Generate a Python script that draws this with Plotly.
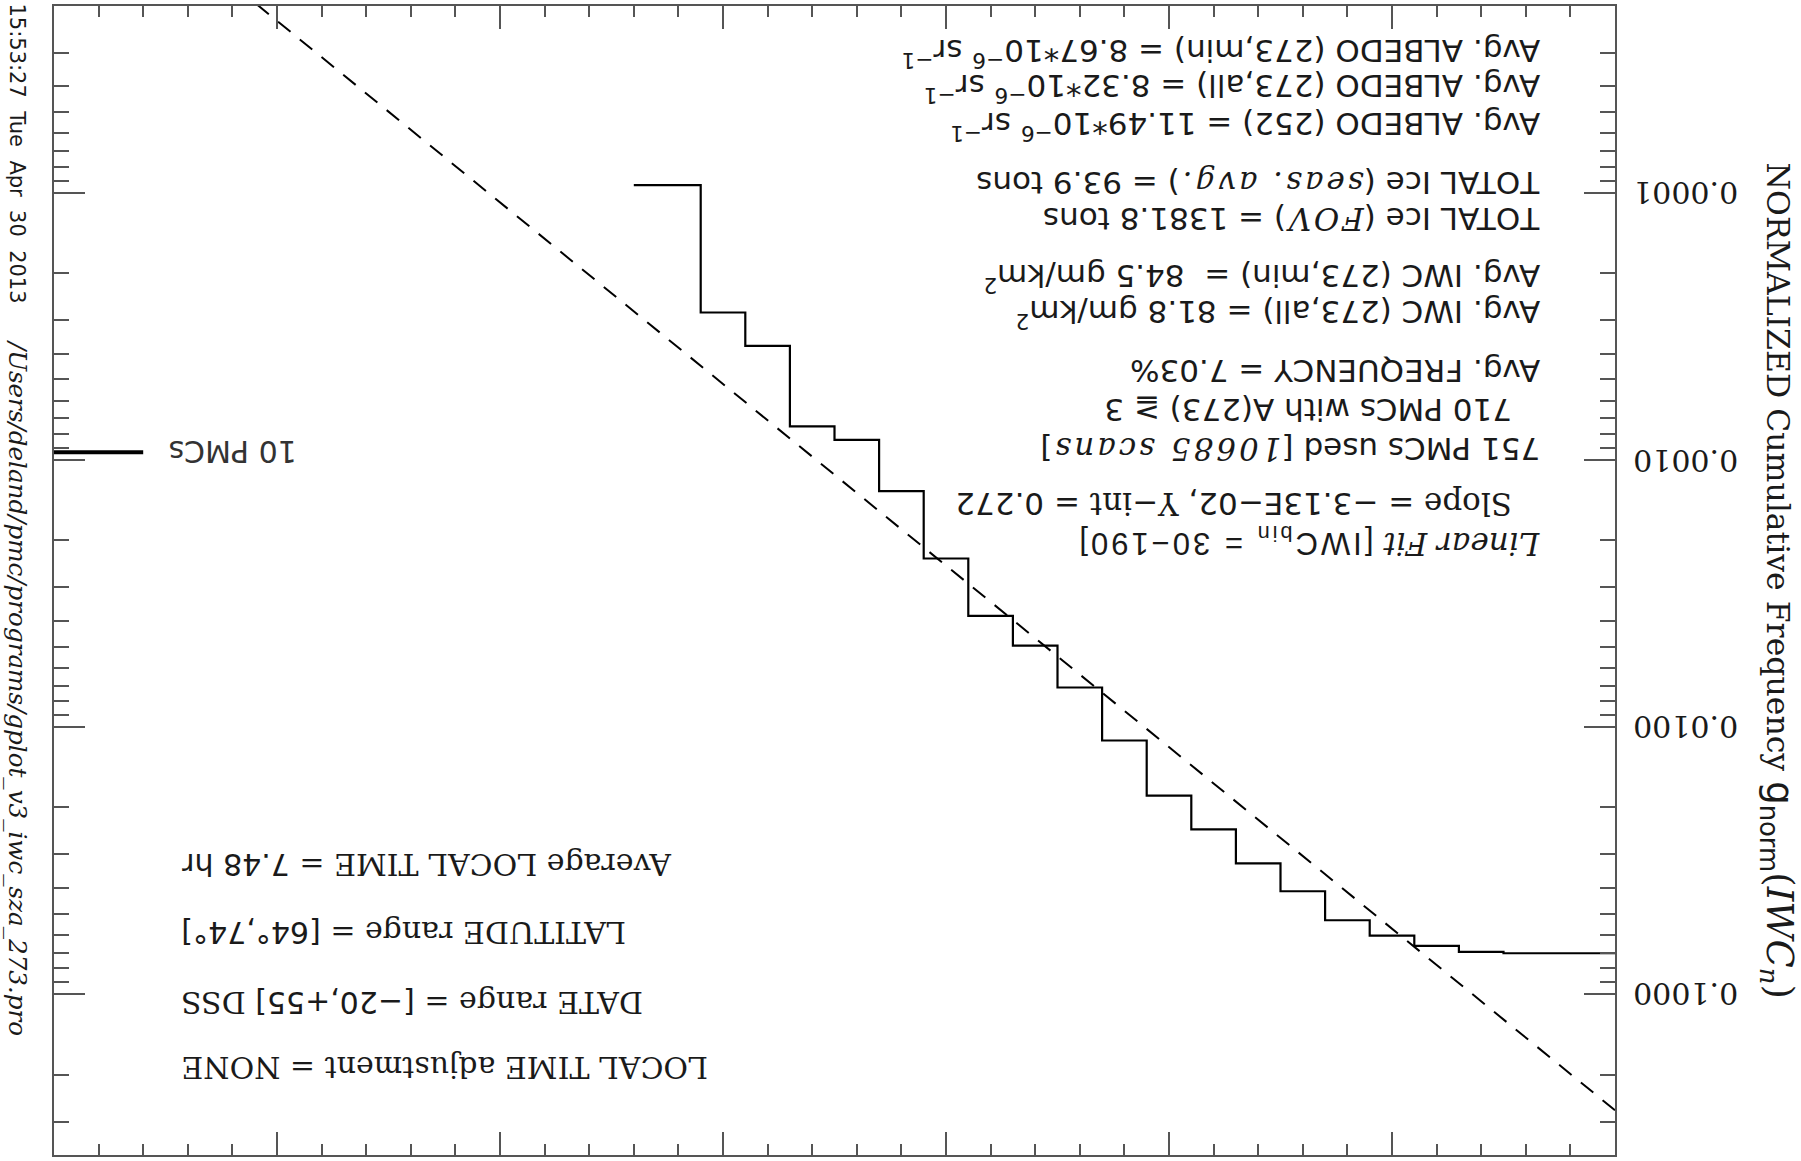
import numpy as np
import plotly.graph_objects as go

# ---- data -------------------------------------------------------------
N_SCANS = 10685
IWC_BINS = [0, 10, 20, 30, 40, 50, 60, 70, 80, 90, 100, 110,
            120, 130, 140, 150, 160, 170, 180, 190, 200, 210, 220]
PMC_COUNTS = [751, 751, 751, 742, 705, 645, 565, 440, 346, 258, 193, 120,
              76, 53, 41, 25, 14, 9, 8, 4, 3, 1, 1]
FIT_SLOPE = -3.13e-2
FIT_YINT = 0.272
FIT_X = [0, 350]
REF_COUNT = 10
REF_X = [330, 350]
Y_TICK_VALUES = [1e-4, 1e-3, 1e-2, 1e-1]
Y_TICK_LABELS = ["0.0001", "0.0010", "0.0100", "0.1000"]
X_RANGE = [350, 0]
Y_RANGE = [0.4, 2e-5]

SANS = "DejaVu Sans"
SERIF = "DejaVu Serif"
INK = "#1a1a1a"
AXIS = "#555555"

g_norm = [c / N_SCANS for c in PMC_COUNTS]
fit_y = [FIT_YINT * np.exp(FIT_SLOPE * x) for x in FIT_X]
ref_y = REF_COUNT / N_SCANS


def span(s, family, italic=False, spacing=0, size=None):
    style = f"font-family:'{family}'"
    if italic:
        style += ";font-style:italic"
    if spacing:
        style += f";letter-spacing:{spacing}px"
    if size:
        style += f";font-size:{size}px"
    return f"<span style=\"{style}\">{s}</span>"


def serif(s, italic=False, spacing=0):
    return span(s, SERIF, italic, spacing)


def sans(s):
    return span(s, SANS)


fig = go.Figure()

# cumulative frequency histogram (steps centred on bins)
fig.add_trace(go.Scatter(
    x=IWC_BINS, y=g_norm, mode="lines",
    line=dict(shape="hvh", color="black", width=2.2),
    hoverinfo="skip"))

# exponential fit
fig.add_trace(go.Scatter(
    x=FIT_X, y=fit_y, mode="lines",
    line=dict(color="black", width=2, dash="16px,12px"),
    hoverinfo="skip"))

# 10-PMC reference level
fig.add_trace(go.Scatter(
    x=REF_X, y=[ref_y, ref_y], mode="lines",
    line=dict(color="black", width=4),
    hoverinfo="skip"))

annotations = []

# y tick labels (upside down, right of the frame)
for v, lab in zip(Y_TICK_VALUES, Y_TICK_LABELS):
    annotations.append(dict(
        x=1.0103, xref="paper", y=np.log10(v), yref="y",
        text=lab, showarrow=False, textangle=180,
        xanchor="left", yanchor="middle",
        font=dict(family=SERIF, size=30, color=INK)))

# axis title
title_tail = (span("g<sub>norm</sub>", SANS, size=37)
              + span("(<i>IWC<sub>n</sub></i>)", SERIF, size=37))
annotations.append(dict(
    x=1.1044, xref="paper", y=0.5000, yref="paper",
    text="NORMALIZED Cumulative Frequency " + title_tail,
    showarrow=False, textangle=90, xanchor="center", yanchor="middle",
    font=dict(family=SERIF, size=31.5, color=INK)))

# time stamp and program path
annotations.append(dict(
    x=-0.0234, xref="paper", y=1.0035, yref="paper",
    text="15:53:27\u00a0\u00a0Tue\u00a0\u00a0Apr\u00a0\u00a030\u00a0\u00a02013",
    showarrow=False, textangle=90, xanchor="center", yanchor="top",
    font=dict(family=SANS, size=21, color=INK)))
annotations.append(dict(
    x=-0.0234, xref="paper", y=0.7107, yref="paper",
    text="<i>/Users/deland/pmc/programs/gplot_v3_iwc_sza_273.pro</i>",
    showarrow=False, textangle=90, xanchor="center", yanchor="top",
    font=dict(family=SERIF, size=24.6, color=INK)))

# reference level label
annotations.append(dict(
    x=310, xref="x", y=np.log10(ref_y), yref="y",
    text="10 PMCs", showarrow=False, textangle=180,
    xanchor="center", yanchor="middle",
    font=dict(family=SANS, size=30, color="#333333")))

# statistics block
fit_line = (serif("Linear Fit", True) + " "
            + span("[IWC<sub>bin</sub> = 30\u2212190]", "Liberation Sans", spacing=3))
stats = [
    ("Avg. ALBEDO (273,min) = 8.67*10<sup>\u22126</sup> sr<sup>\u22121</sup>", 0.9536, 0.9586),
    ("Avg. ALBEDO (273,all) = 8.32*10<sup>\u22126</sup> sr<sup>\u22121</sup>", 0.9536, 0.9287),
    ("Avg. ALBEDO (252) = 11.49*10<sup>\u22126</sup> sr<sup>\u22121</sup>", 0.9536, 0.8957),
    ("TOTAL Ice (" + serif("seas. avg.", True, 3) + ") = 93.9 tons", 0.9536, 0.8458),
    ("TOTAL Ice (" + serif("FOV", True, 3) + ") = 1381.8 tons", 0.9536, 0.8141),
    ("Avg. IWC (273,min) =\u00a0\u00a084.5 gm/km<sup>2</sup>", 0.9536, 0.7639),
    ("Avg. IWC (273,all) = 81.8 gm/km<sup>2</sup>", 0.9536, 0.7321),
    ("Avg. FREQUENCY = 7.03%", 0.9536, 0.6822),
    ("710 PMCs with A(273) \u2267 3", 0.9353, 0.6482),
    ("751 PMCs used [" + serif("10685 scans", True, 3) + "]", 0.9536, 0.6143),
    (serif("Slope") + " = \u22123.13E\u221202, " + serif("Y\u2212int") + " = 0.272", 0.9353, 0.5665),
    (fit_line, 0.9536, 0.5345),
]
for txt, xp, yp in stats:
    annotations.append(dict(
        x=xp, xref="paper", y=yp, yref="paper", text=txt,
        showarrow=False, textangle=180, xanchor="right", yanchor="middle",
        font=dict(family=SANS, size=31, color=INK)))

# selection block
selection = [
    ("Average LOCAL TIME = " + sans("7.48 hr"), 0.2530),
    ("LATITUDE range = " + sans("[64\u00b0,74\u00b0]"), 0.1932),
    ("DATE range = " + sans("[\u221220,+55]") + " DSS", 0.1333),
    ("LOCAL TIME adjustment = NONE", 0.0756),
]
for txt, yp in selection:
    annotations.append(dict(
        x=0.0804, xref="paper", y=yp, yref="paper", text=txt,
        showarrow=False, textangle=180, xanchor="left", yanchor="middle",
        font=dict(family=SERIF, size=30, color=INK)))

fig.update_layout(
    width=1801, height=1161,
    margin=dict(l=54, r=186, t=4, b=6, pad=0),
    paper_bgcolor="white", plot_bgcolor="white",
    showlegend=False,
    font=dict(family=SANS, color=INK),
    annotations=annotations,
    xaxis=dict(
        range=X_RANGE, showticklabels=False, showgrid=False, zeroline=False,
        ticks="inside", tick0=0, dtick=50, ticklen=23, tickwidth=1.5,
        tickcolor=AXIS,
        minor=dict(ticks="inside", dtick=10, ticklen=11.5, tickwidth=1.5,
                   tickcolor=AXIS, showgrid=False),
        showline=True, linecolor=AXIS, linewidth=1.5, mirror="ticks"),
    yaxis=dict(
        type="log", range=[np.log10(Y_RANGE[0]), np.log10(Y_RANGE[1])],
        side="right", showticklabels=False, showgrid=False, zeroline=False,
        ticks="inside", dtick=1, ticklen=31, tickwidth=1.5, tickcolor=AXIS,
        minor=dict(ticks="inside", dtick="D1", ticklen=15.6, tickwidth=1.5,
                   tickcolor=AXIS, showgrid=False),
        showline=True, linecolor=AXIS, linewidth=1.5, mirror="ticks"),
)

fig.write_html("out.html")
